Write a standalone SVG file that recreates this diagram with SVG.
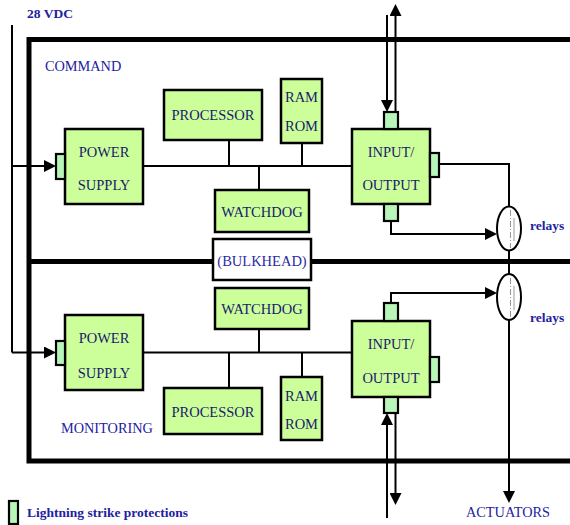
<svg xmlns="http://www.w3.org/2000/svg" width="570" height="525" viewBox="0 0 570 525">
<defs>
<style>
.box{fill:#ccff99;stroke:#000;stroke-width:2.5}
.prot{fill:#b8f5b8;stroke:#000;stroke-width:2.2}
.frame{fill:none;stroke:#000;stroke-width:5}
.ln{fill:none;stroke:#000;stroke-width:2}
.arr{fill:none;stroke:#000;stroke-width:2;marker-end:url(#ah)}
.lbl{font-family:"Liberation Serif","Times New Roman",serif;font-size:14.5px;fill:#1a1a6e;text-anchor:middle}
.out{font-family:"Liberation Serif","Times New Roman",serif;font-size:14.3px;fill:#2222a0}
.bold{font-family:"Liberation Serif","Times New Roman",serif;font-size:13.5px;font-weight:bold;fill:#2222a0}
.rel{fill:#fff;stroke:#000;stroke-width:2}
.gray{stroke:#999;stroke-width:1;fill:none}
</style>
<marker id="ah" viewBox="0 0 12 12" refX="8" refY="6" markerWidth="12" markerHeight="12" orient="auto" markerUnits="userSpaceOnUse"><path d="M0,0 L12,6 L0,12 z" fill="#000"/></marker>
</defs>
<rect width="570" height="525" fill="#fff"/>

<g id="frame">
<path class="frame" d="M570,39.5 H29 V461 H570"/>
<path class="frame" d="M29,261.5 H570"/>
</g>

<g id="connectors">
<path class="ln" d="M12,25 V352.5"/>
<path class="arr" d="M12,166 H52"/>
<path class="arr" d="M12,352.5 H52"/>
<path class="ln" d="M143,166 H352"/>
<path class="ln" d="M229,140 V166"/>
<path class="ln" d="M259,166 V190"/>
<path class="ln" d="M302,143 V166"/>
<path class="arr" d="M387,15 V108"/>
<path class="arr" d="M395.5,112 V8"/>
<path class="ln" d="M439,164 H509 V206.5"/>
<path class="arr" d="M391,221 V234 H493"/>
<path class="ln" d="M509,250.5 V274"/>
<path class="ln" d="M143,352.5 H352"/>
<path class="ln" d="M259,329 V352.5"/>
<path class="ln" d="M229,352.5 V388"/>
<path class="ln" d="M302,352.5 V377"/>
<path class="arr" d="M391,303 V293 H493"/>
<path class="arr" d="M387,518 V417"/>
<path class="arr" d="M395.5,413 V501"/>
<path class="arr" d="M509,320 V499"/>
</g>

<g id="bulkhead">
<rect x="213" y="239" width="98" height="41" fill="#fff" stroke="#000" stroke-width="2.5"/>
<text class="lbl" x="262" y="266" style="fill:#2a2aa0">(BULKHEAD)</text>
</g>

<g id="ps1">
<rect class="box" x="65" y="129" width="78" height="75"/>
<rect class="prot" x="56" y="154" width="9" height="25"/>
<text class="lbl" x="104" y="157">POWER</text>
<text class="lbl" x="104" y="190">SUPPLY</text>
</g>
<g id="proc1">
<rect class="box" x="164" y="90" width="98" height="50"/>
<text class="lbl" x="213" y="120">PROCESSOR</text>
</g>
<g id="ram1">
<rect class="box" x="281" y="79" width="41" height="64"/>
<text class="lbl" x="301.5" y="102">RAM</text>
<text class="lbl" x="301.5" y="131">ROM</text>
</g>
<g id="wd1">
<rect class="box" x="215" y="190" width="94" height="42"/>
<text class="lbl" x="262" y="217">WATCHDOG</text>
</g>
<g id="io1">
<rect class="box" x="352" y="129" width="78" height="75"/>
<rect class="prot" x="384" y="112" width="14" height="17"/>
<rect class="prot" x="430" y="153" width="9" height="24"/>
<rect class="prot" x="384" y="204" width="14" height="17"/>
<text class="lbl" x="391" y="157">INPUT/</text>
<text class="lbl" x="391" y="190">OUTPUT</text>
</g>
<g id="relay1">
<ellipse class="rel" cx="509" cy="228.5" rx="12" ry="22"/>
<path class="gray" d="M510.5,210 V248" stroke-dasharray="6,2,1,2"/>
<path class="gray" d="M514,218 V241"/>
<text class="bold" x="530" y="230">relays</text>
</g>

<g id="ps2">
<rect class="box" x="65" y="315" width="78" height="75"/>
<rect class="prot" x="56" y="341" width="9" height="24"/>
<text class="lbl" x="104" y="343">POWER</text>
<text class="lbl" x="104" y="378">SUPPLY</text>
</g>
<g id="wd2">
<rect class="box" x="215" y="288" width="94" height="41"/>
<text class="lbl" x="262" y="314">WATCHDOG</text>
</g>
<g id="proc2">
<rect class="box" x="164" y="388" width="98" height="46"/>
<text class="lbl" x="213" y="417">PROCESSOR</text>
</g>
<g id="ram2">
<rect class="box" x="281" y="377" width="41" height="63"/>
<text class="lbl" x="301.5" y="401">RAM</text>
<text class="lbl" x="301.5" y="429">ROM</text>
</g>
<g id="io2">
<rect class="box" x="352" y="321" width="78" height="76"/>
<rect class="prot" x="384" y="303" width="14" height="18"/>
<rect class="prot" x="430" y="357" width="9" height="25"/>
<rect class="prot" x="384" y="397" width="14" height="16"/>
<text class="lbl" x="391" y="349">INPUT/</text>
<text class="lbl" x="391" y="383">OUTPUT</text>
</g>
<g id="relay2">
<ellipse class="rel" cx="509" cy="297" rx="12" ry="23"/>
<path class="gray" d="M510.5,278 V317" stroke-dasharray="6,2,1,2"/>
<path class="gray" d="M514,286 V310"/>
<text class="bold" x="530" y="322">relays</text>
</g>

<g id="labels">
<text class="bold" x="27" y="18">28 VDC</text>
<text class="out" x="45" y="71">COMMAND</text>
<text class="out" x="61" y="433">MONITORING</text>
<text class="out" x="466" y="517">ACTUATORS</text>
</g>

<g id="legend">
<rect class="prot" x="9" y="501" width="9" height="23"/>
<text class="bold" x="27" y="517">Lightning strike protections</text>
</g>
</svg>
